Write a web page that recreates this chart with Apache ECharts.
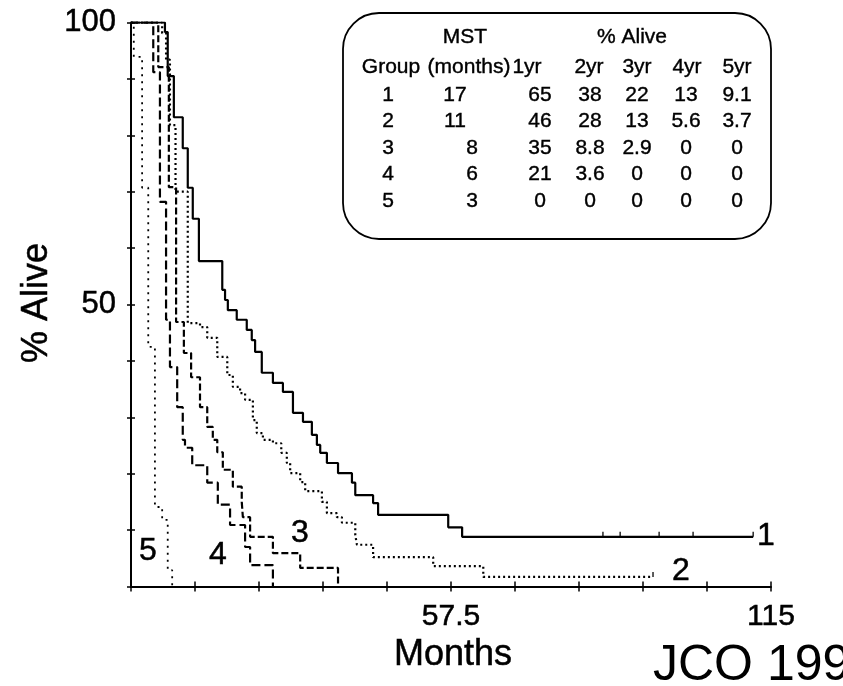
<!DOCTYPE html>
<html><head><meta charset="utf-8">
<script src="https://cdn.jsdelivr.net/npm/echarts@6/dist/echarts.min.js"></script>
<style>html,body{margin:0;padding:0;background:#fff}#c{width:843px;height:686px}</style>
</head><body><div id="c"></div>
<script>
// ---- Data (months, % alive after each step) ----
const g1Months = [0, 6.1, 6.6, 7.7, 9.3, 10.2, 11.1, 12.2, 16.4, 16.9, 17.4, 19.0, 20.8, 21.7, 22.3, 23.5, 25.5, 27.3, 29.1, 30.9, 32.5, 33.4, 34.0, 35.2, 37.2, 39.7, 40.3, 43.5, 44.4, 57.0, 59.5, 111.8];
const g1Surv   = [100, 98.3, 90.5, 83.2, 77.7, 70.7, 65.2, 57.7, 52.6, 50.8, 49.0, 47.3, 45.5, 43.7, 41.6, 37.9, 36.1, 34.5, 30.8, 29.2, 26.9, 25.1, 23.7, 21.9, 20.1, 18.4, 16.2, 14.8, 12.7, 10.5, 8.8, 8.8];
const g1CensorMonths = [84.8, 87.9, 94.9, 101.0, 111.8];
const g1CensorSurv   = [8.8, 8.8, 8.8, 8.8, 8.8];

const g2Months = [0, 5.6, 6.3, 7.0, 8.0, 10.2, 12.4, 13.7, 15.5, 17.3, 18.3, 19.6, 20.5, 21.9, 22.6, 23.7, 25.5, 27.0, 28.0, 28.6, 30.4, 31.3, 34.3, 35.2, 37.0, 37.9, 40.3, 40.6, 43.5, 54.3, 63.3, 93.8];
const g2Surv   = [100, 98.1, 93.4, 81.8, 70.0, 46.7, 46.0, 44.1, 40.7, 37.5, 35.4, 34.3, 33.1, 29.5, 27.2, 26.0, 25.4, 23.7, 21.9, 20.1, 18.5, 16.9, 15.0, 13.0, 12.3, 11.3, 9.1, 7.4, 5.2, 3.6, 1.7, 1.7];
const g2CensorMonths = [93.8];
const g2CensorSurv   = [1.7];

const g3Months = [0, 4.9, 6.8, 8.1, 9.5, 10.8, 12.4, 13.7, 14.7, 15.5, 16.5, 18.3, 19.9, 20.1, 21.4, 25.5, 30.4, 37.2];
const g3Surv   = [100, 92.1, 70.8, 46.9, 41.4, 37.1, 31.8, 28.3, 26.0, 23.8, 20.7, 17.7, 15.0, 12.3, 8.8, 5.9, 3.3, 0];

const g4Months = [0, 4.0, 5.2, 6.3, 7.0, 8.3, 9.3, 9.7, 11.0, 13.7, 15.6, 17.8, 20.5, 21.4, 25.5];
const g4Surv   = [100, 91.2, 68.2, 47.3, 38.9, 31.8, 26.0, 24.6, 21.5, 18.4, 14.5, 10.9, 7.0, 3.8, 0];

const g5Months = [0, 0.5, 2.0, 3.1, 4.3, 5.6, 6.6, 7.4];
const g5Surv   = [100, 93.9, 70.7, 42.5, 14.1, 11.8, 2.9, 0];

// ---- Tick labels ----
const xTickLabels = ['57.5', '115'];
const yTickLabels = ['50', '100'];

// ---- Inset table ----
const tableTitles = ['MST', '% Alive'];
const tableHeaders = ['Group', '(months)', '1yr', '2yr', '3yr', '4yr', '5yr'];
const tableGroup = ['1', '2', '3', '4', '5'];
const tableMST   = ['17', '11', '8', '6', '3'];
const tableYr1   = ['65', '46', '35', '21', '0'];
const tableYr2   = ['38', '28', '8.8', '3.6', '0'];
const tableYr3   = ['22', '13', '2.9', '0', '0'];
const tableYr4   = ['13', '5.6', '0', '0', '0'];
const tableYr5   = ['9.1', '3.7', '0', '0', '0'];

const curveLabels = ['1', '2', '3', '4', '5'];

// ---- Build chart ----
const FONT = "'Liberation Sans', Arial, Helvetica, sans-serif";
const zip = (a, b) => a.map((v, i) => [v, b[i]]);
const near = (v, s) => Math.abs(v - parseFloat(s)) < 1e-6;

const chart = echarts.init(document.getElementById('c'), null, {renderer: 'canvas'});

function txt(x, y, text, size, extra, sw) {
  return Object.assign({
    type: 'text', x: x, y: y, silent: true,
    style: {text: text, fontSize: size, fontFamily: FONT, fill: '#000',
            stroke: '#000', lineWidth: sw == null ? 0.5 : sw,
            align: 'center', verticalAlign: 'middle'}
  }, extra || {});
}

const graphics = [];
graphics.push({
  type: 'rect', shape: {x: 343, y: 13, width: 428, height: 226, r: 36},
  style: {fill: '#fff', stroke: '#000', lineWidth: 1.8}, z: 10
});
const TS = 21;
const TSW = 0.4;
graphics.push(txt(465, 37, tableTitles[0], TS, {z: 11}, TSW));
graphics.push(txt(632, 37, tableTitles[1], TS, {z: 11}, TSW));
const headerX = [391, 469, 527, 589, 637, 687, 737];
tableHeaders.forEach((h, i) => graphics.push(txt(headerX[i], 67, h, TS, {z: 11}, TSW)));
const cols = [tableGroup, tableMST, tableYr1, tableYr2, tableYr3, tableYr4, tableYr5];
const colX = [388, null, 540, 590, 637, 686, 737];
for (let r = 0; r < 5; r++) {
  const y = 95 + r * 26.5;
  cols.forEach((col, c) => {
    let x = colX[c];
    if (c === 1) x = col[r].length > 1 ? 455 : 472;
    graphics.push(txt(x, y, col[r], TS, {z: 11}, TSW));
  });
}
// curve labels
const labelPos = [[766, 536], [681, 571], [300, 533], [218, 555], [148, 551]];
curveLabels.forEach((l, i) => graphics.push(txt(labelPos[i][0], labelPos[i][1], l, 32)));
// axis titles
graphics.push(txt(453, 655, 'Months', 36));
graphics.push(txt(37, 303, '% Alive', 36, {rotation: Math.PI / 2}));
graphics.push({
  type: 'text', x: 653, y: 666, silent: true,
  style: {text: 'JCO 1999', fontSize: 50, fontFamily: FONT, fill: '#000', align: 'left', verticalAlign: 'middle'}
});

const axisCommon = {
  type: 'value', splitLine: {show: false}, axisPointer: {show: false}
};
const lineBase = {type: 'line', step: 'end', symbol: 'none', silent: true, xAxisIndex: 0, yAxisIndex: 0};
const labelStyle = {fontSize: 31, color: '#000', fontFamily: FONT, textBorderColor: '#000', textBorderWidth: 0.5};

chart.setOption({
  animation: false,
  backgroundColor: '#fff',
  grid: {left: 131, right: 72, top: 22.5, bottom: 99.5, containLabel: false},
  xAxis: [
    Object.assign({}, axisCommon, {
      min: 0, max: 115, interval: 11.5, position: 'bottom',
      axisLine: {show: true, onZero: false, lineStyle: {color: '#000', width: 2}},
      axisTick: {show: true, inside: false, length: 5, lineStyle: {color: '#000', width: 1.5}},
      axisLabel: Object.assign({
        show: true, margin: 15,
        showMinLabel: true, showMaxLabel: true,
        formatter: v => { const s = xTickLabels.find(t => near(v, t)); return s || ''; }
      }, labelStyle, {fontSize: 30})
    }),
    Object.assign({}, axisCommon, {
      min: 0, max: 115, interval: 11.5, position: 'bottom',
      axisLine: {show: false, onZero: false},
      axisTick: {show: true, inside: true, length: 5, lineStyle: {color: '#000', width: 1.5}},
      axisLabel: {show: false}
    })
  ],
  yAxis: [
    Object.assign({}, axisCommon, {
      min: 0, max: 100, interval: 10, position: 'left',
      axisLine: {show: true, onZero: false, lineStyle: {color: '#000', width: 2}},
      axisTick: {show: true, inside: false, length: 4, lineStyle: {color: '#000', width: 1.5}},
      axisLabel: Object.assign({
        show: true, margin: 15,
        showMinLabel: true, showMaxLabel: true,
        formatter: v => { const s = yTickLabels.find(t => near(v, t)); return s || ''; }
      }, labelStyle)
    }),
    Object.assign({}, axisCommon, {
      min: 0, max: 100, interval: 10, position: 'left',
      axisLine: {show: false, onZero: false},
      axisTick: {show: true, inside: true, length: 4, lineStyle: {color: '#000', width: 1.5}},
      axisLabel: {show: false}
    })
  ],
  series: [
    Object.assign({}, lineBase, {name: 'Group 5', data: zip(g5Months, g5Surv), z: 2,
      lineStyle: {color: '#000', width: 1.8, type: [2, 5], cap: 'butt'}}),
    Object.assign({}, lineBase, {name: 'Group 4', data: zip(g4Months, g4Surv), z: 3,
      lineStyle: {color: '#000', width: 2.2, type: [9, 4], cap: 'butt'}}),
    Object.assign({}, lineBase, {name: 'Group 3', data: zip(g3Months, g3Surv), z: 4,
      lineStyle: {color: '#000', width: 2.2, type: [7, 3], cap: 'butt'}}),
    Object.assign({}, lineBase, {name: 'Group 2', data: zip(g2Months, g2Surv), z: 5,
      lineStyle: {color: '#000', width: 2.2, type: [2, 3], cap: 'butt'}}),
    Object.assign({}, lineBase, {name: 'Group 1', data: zip(g1Months, g1Surv), z: 6,
      lineStyle: {color: '#000', width: 2.2, type: 'solid'}}),
    {type: 'scatter', name: 'Group 1 censored', data: zip(g1CensorMonths, g1CensorSurv), silent: true,
      symbol: 'rect', symbolSize: [1.6, 5], symbolOffset: [0, -2.5], itemStyle: {color: '#000'}, z: 7},
    {type: 'scatter', name: 'Group 2 censored', data: zip(g2CensorMonths, g2CensorSurv), silent: true,
      symbol: 'rect', symbolSize: [1.6, 5], symbolOffset: [0, -2.5], itemStyle: {color: '#000'}, z: 7}
  ],
  graphic: graphics
});
</script>
</body></html>
